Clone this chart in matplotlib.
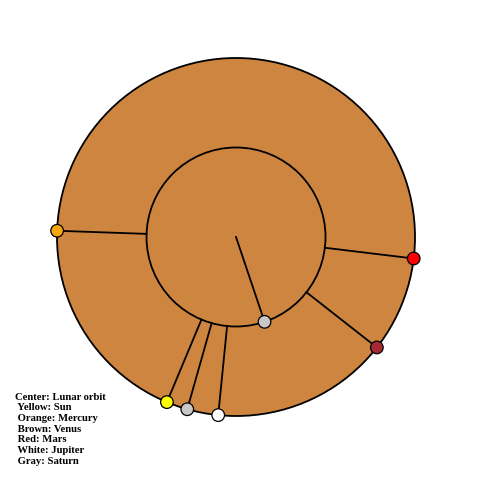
import numpy as np
import matplotlib
matplotlib.use("Agg")
import matplotlib.pyplot as plt
from matplotlib.patches import Circle

# Data
bodies = ["Sun", "Mercury", "Venus", "Mars", "Jupiter", "Saturn"]
body_colors = ["#FFFF00", "#F5A70C", "#A52A35", "#FF0000", "#FFFFFF", "#C8C8C8"]
body_angles = [-112.7, 178.0, -38.1, -6.9, -95.7, -105.8]   # degrees, ccw from east
moon_angle = -71.4
moon_color = "#C8C8C8"
legend_lines = ["Center: Lunar orbit", " Yellow: Sun", " Orange: Mercury", " Brown: Venus",
                " Red: Mars", " White: Jupiter", " Gray: Saturn"]

# Layout (pixel space)
W = H = 480
cx, cy = 236, 237
R_out, R_in = 179, 89.5
dot_r = 6.3
fill = "#CD853F"

fig = plt.figure(figsize=(4.8, 4.8), dpi=100)
ax = fig.add_axes([0, 0, 1, 1])
ax.set_xlim(0, W)
ax.set_ylim(H, 0)
ax.set_aspect("equal")
ax.axis("off")

ax.add_patch(Circle((cx, cy), R_out, facecolor=fill, edgecolor="black", lw=1.3, zorder=1))
ax.add_patch(Circle((cx, cy), R_in, facecolor=fill, edgecolor="black", lw=1.3, zorder=2))

def pt(r, ang):
    a = np.deg2rad(ang)
    return cx + r * np.cos(a), cy - r * np.sin(a)

for ang, col in zip(body_angles, body_colors):
    x0, y0 = pt(R_in, ang)
    x1, y1 = pt(R_out, ang)
    ax.plot([x0, x1], [y0, y1], color="black", lw=1.3, zorder=3)
    ax.add_patch(Circle((x1, y1), dot_r, facecolor=col, edgecolor="black", lw=0.9, zorder=5))

mx, my = pt(R_in, moon_angle)
ax.plot([cx, mx], [cy, my], color="black", lw=1.3, zorder=3)
ax.add_patch(Circle((mx, my), dot_r, facecolor=moon_color, edgecolor="black", lw=0.9, zorder=5))

y0 = 397.0
for i, t in enumerate(legend_lines):
    ax.text(15, y0 + i * 10.75, t, fontsize=7.7, fontweight="bold",
            family="Liberation Serif", va="center", ha="left", color="black")

fig.savefig("out.png", dpi=100)
